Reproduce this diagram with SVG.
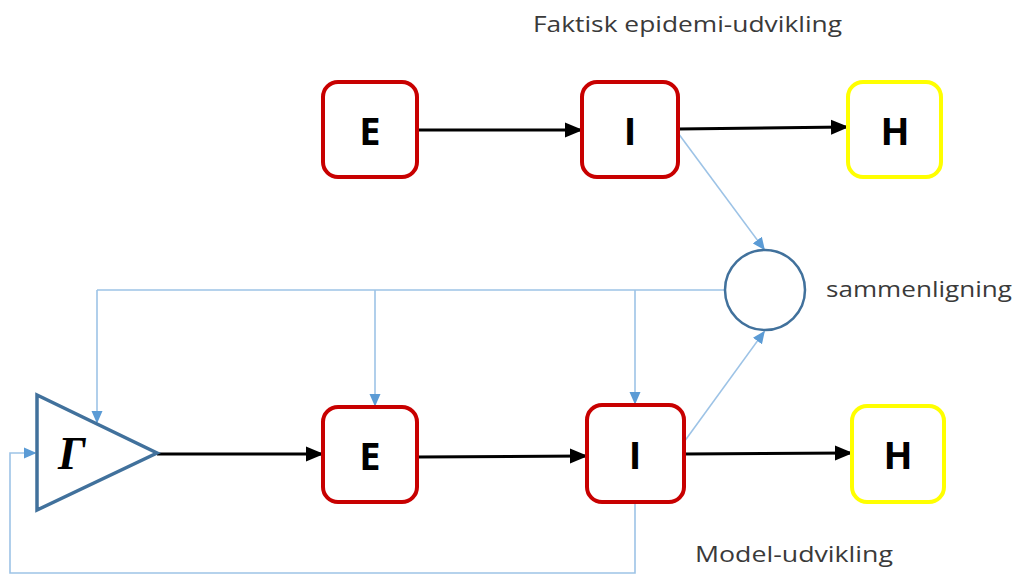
<svg xmlns="http://www.w3.org/2000/svg" width="1013" height="574" viewBox="0 0 1013 574">
<defs>
<style>
.box{fill:#fff;stroke-width:4}
.red{stroke:#c80000}
.yel{stroke:#ffff00}
.lbl{font-family:"Open Sans","Liberation Sans",sans-serif;font-weight:bold;font-size:38px;fill:#000;text-anchor:middle;dominant-baseline:central}
.txt{font-family:"Open Sans","Liberation Sans",sans-serif;font-size:21px;fill:#3a3a3a}
.blk{stroke:#000;stroke-width:3;fill:none;marker-end:url(#ab)}
.lb{stroke:#9dc3e6;stroke-width:1.6;fill:none}
.lba{stroke:#9dc3e6;stroke-width:1.6;fill:none;marker-end:url(#al)}
</style>
<marker id="ab" markerWidth="6" markerHeight="6" refX="5" refY="3" orient="auto" markerUnits="strokeWidth"><path d="M0,0.5 L6,3 L0,5.5 z" fill="#000"/></marker>
<marker id="al" markerWidth="8" markerHeight="8" refX="7" refY="4" orient="auto" markerUnits="strokeWidth"><path d="M0,0.5 L8,4 L0,7.5 z" fill="#5b9bd5"/></marker>
</defs>
<g id="connectors">
<line class="blk" x1="417" y1="130" x2="580" y2="130"/>
<line class="blk" x1="678" y1="129" x2="846" y2="127"/>
<line class="blk" x1="157" y1="454" x2="321" y2="454"/>
<line class="blk" x1="417" y1="457" x2="585" y2="456"/>
<line class="blk" x1="684" y1="454" x2="850" y2="453"/>
<line class="lba" x1="678" y1="133" x2="764" y2="249"/>
<line class="lba" x1="684" y1="442" x2="764" y2="332"/>
<polyline class="lb" points="725,290 97,290"/>
<line class="lba" x1="97" y1="290" x2="97" y2="422"/>
<line class="lba" x1="375" y1="290" x2="375" y2="405"/>
<line class="lba" x1="635" y1="290" x2="635" y2="403"/>
<polyline class="lba" points="635,502 635,573 10,573 10,453 35,453"/>
</g>
<g id="gamma">
<polygon points="37,395 37,510 157,453" fill="#fff" stroke="#41719c" stroke-width="3.5"/>
<text x="72" y="469" font-family="Liberation Serif,serif" font-style="italic" font-weight="bold" font-size="46" fill="#000" text-anchor="middle">Γ</text>
</g>
<g id="E1"><rect class="box red" x="323" y="82" width="94" height="95" rx="15"/><text class="lbl" x="370" y="130">E</text></g>
<g id="I1"><rect class="box red" x="582" y="82" width="96" height="95" rx="15"/><text class="lbl" x="630" y="130">I</text></g>
<g id="H1"><rect class="box yel" x="848" y="82" width="93" height="95" rx="15"/><text class="lbl" x="895" y="130">H</text></g>
<g id="E2"><rect class="box red" x="323" y="407" width="94" height="95" rx="15"/><text class="lbl" x="370" y="455">E</text></g>
<g id="I2"><rect class="box red" x="587" y="405" width="97" height="97" rx="15"/><text class="lbl" x="635" y="454">I</text></g>
<g id="H2"><rect class="box yel" x="852" y="406" width="92" height="96" rx="15"/><text class="lbl" x="898" y="454">H</text></g>
<g id="compare"><circle cx="765" cy="290" r="40" fill="#fff" stroke="#41719c" stroke-width="2.5"/></g>
<text class="txt" x="533" y="32" textLength="309" lengthAdjust="spacingAndGlyphs">Faktisk epidemi-udvikling</text>
<text class="txt" x="826" y="297" textLength="186" lengthAdjust="spacingAndGlyphs">sammenligning</text>
<text class="txt" x="695" y="562" textLength="198" lengthAdjust="spacingAndGlyphs">Model-udvikling</text>
</svg>
